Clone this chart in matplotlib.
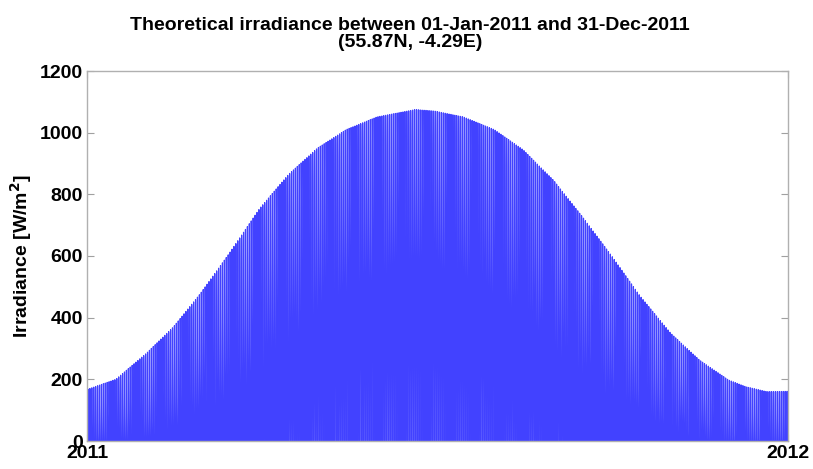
import matplotlib
matplotlib.use("Agg")
import matplotlib.pyplot as plt
import numpy as np

plt.rcParams['font.family'] = ['Liberation Sans', 'DejaVu Sans']
plt.rcParams['font.weight'] = 'bold'

read_days = [0, 15, 31, 45, 59, 74, 90, 105, 120, 135, 151, 171, 181, 196,
             212, 227, 243, 258, 273, 288, 304, 319, 334, 343, 354, 365]
# daily noon peak irradiance [W/m^2] read from the envelope
peak_wm2 = [167, 200, 285, 370, 478, 608, 755, 865, 950, 1010, 1051, 1075, 1070, 1051,
            1010, 945, 845, 727, 602, 470, 349, 262, 198, 176, 160, 161]
# approximate day length [h] at 55.87N on some of the same days
dl_days = [0, 31, 59, 90, 120, 151, 171, 181, 212, 243, 273, 304, 334, 354, 365]
day_hours = [7.1, 8.6, 10.6, 12.9, 15.2, 17.0, 17.6, 17.4, 15.8, 13.7, 11.5, 9.2, 7.4, 6.9, 7.0]
solar_noon = 12.3

ytick_vals = [0, 200, 400, 600, 800, 1000, 1200]
xtick_labels = ["2011", "2012"]

# time series for the whole year, 10-minute steps
t = np.arange(0, 365 * 144 + 1) / 144.0
hour = (t % 1.0) * 24
pk = np.interp(t, read_days, peak_wm2)
dl = np.interp(t, dl_days, day_hours)
phase = (hour - solar_noon) / dl
irr = np.where(np.abs(phase) < 0.5, pk * np.cos(np.pi * phase) ** 1.3, 0.0)

fig = plt.figure(figsize=(8.13, 4.69), dpi=100)
ax = fig.add_axes([87 / 813, 28 / 469, 701 / 813, 370 / 469])
ax.fill_between(t, irr, 0, color='#5c5cff', linewidth=0)
ax.plot(t, irr, color='#4242ff', linewidth=0.85)

ax.set_xlim(0, 365)
ax.set_ylim(0, 1200)
ax.set_yticks(ytick_vals)
ax.set_xticks([0, 365])
ax.set_xticklabels(xtick_labels)
ax.tick_params(axis='both', direction='in', length=5, color='#a0a0a0',
               labelsize=14, right=True, top=True)
ax.tick_params(axis='x', pad=3)
ax.tick_params(axis='y', pad=3)
for s in ax.spines.values():
    s.set_color('#b0b0b0')
    s.set_linewidth(1.0)

ax.set_ylabel("Irradiance [W/m$^\\mathbf{2}$]", fontsize=14, fontweight='bold', labelpad=4)
ax.set_title("Theoretical irradiance between 01-Jan-2011 and 31-Dec-2011\n(55.87N, -4.29E)",
             fontsize=14, fontweight='bold', pad=17, linespacing=1.05, x=0.461)

fig.savefig("out.png", dpi=100)
